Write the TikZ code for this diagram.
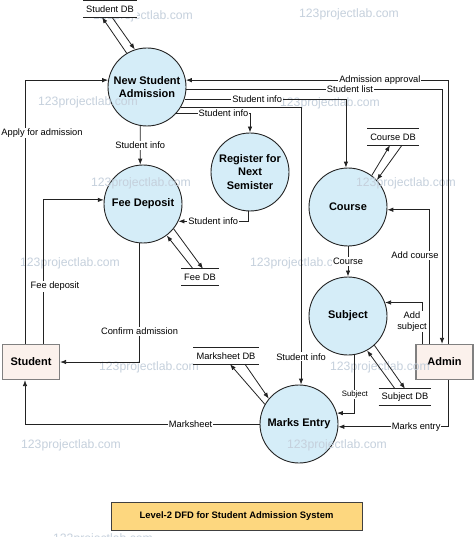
\documentclass[tikz,border=0pt]{standalone}
\usepackage{fontspec}
\setmainfont{Liberation Sans}
\usetikzlibrary{arrows.meta}

\definecolor{procfill}{HTML}{D5EDF8}
\definecolor{entfill}{HTML}{FBF1EC}
\definecolor{titlefill}{HTML}{FDD77F}
\definecolor{wmark}{HTML}{C5D0DC}
\definecolor{linegray}{HTML}{222222}

\begin{document}
\begin{tikzpicture}[x=1pt, y=-1pt, >={Latex[length=6pt,width=4.5pt]},
    process/.style={circle, draw=linegray, line width=0.9pt, fill=procfill, minimum size=78pt, inner sep=0pt, align=center, font=\fontsize{11}{13.5}\selectfont\bfseries},
    entity/.style={rectangle, draw=gray, line width=1.2pt, fill=entfill, minimum width=57pt, minimum height=35pt, font=\fontsize{11}{13}\selectfont\bfseries},
    store/.style={fill=white, inner xsep=3pt, inner ysep=1pt, minimum height=16pt, font=\fontsize{9.3}{11}\selectfont, append after command={(\tikzlastnode.north west) edge[draw=linegray, line width=0.8pt] (\tikzlastnode.north east) (\tikzlastnode.south west) edge[draw=linegray, line width=0.8pt] (\tikzlastnode.south east)}},
    lbl/.style={fill=white, inner sep=1pt, font=\fontsize{9.3}{11}\selectfont},
    flow/.style={->, draw=linegray, line width=0.8pt},
    wm/.style={text=wmark, font=\fontsize{12.2}{14}\selectfont}]
    \useasboundingbox (0,0) rectangle (474,537);

    % processes
    \node[process] (nsa) at (147,87) {New Student\\Admission};
    \node[process] (fee) at (143,204) {Fee Deposit};
    \node[process] (reg) at (250,172) {Register for\\Next\\Semister};
    \node[process] (crs) at (348,207) {Course};
    \node[process] (sub) at (348,316) {Subject};
    \node[process] (mks) at (299,424) {Marks Entry};

    % external entities
    \node[entity] (stu) at (31,362) {Student};
    \node[entity] (adm) at (444.5,362) {Admin};

    % watermarks
    \node[wm] (wm1) at (143,16) {123projectlab.com};
    \node[wm] (wm2) at (349,14) {123projectlab.com};
    \node[wm] (wm3) at (88,102) {123projectlab.com};
    \node[wm] (wm4) at (330,103) {123projectlab.com};
    \node[wm] (wm5) at (141,183) {123projectlab.com};
    \node[wm] (wm6) at (406,183) {123projectlab.com};
    \node[wm] (wm7) at (70,263) {123projectlab.com};
    \node[wm] (wm8) at (300,263) {123projectlab.com};
    \node[wm] (wm9) at (149,367) {123projectlab.com};
    \node[wm] (wm10) at (380,367) {123projectlab.com};
    \node[wm] (wm11) at (71,445) {123projectlab.com};
    \node[wm] (wm12) at (337,445) {123projectlab.com};
    \node[wm] (wm13) at (103,539) {123projectlab.com};

    % data stores
    \node[store] (sdb) at (110,9) {Student DB};
    \node[store] (cdb) at (393,137) {Course DB};
    \node[store] (fdb) at (200,277) {Fee DB};
    \node[store] (mdb) at (226,356) {Marksheet DB};
    \node[store] (sjdb) at (405,397) {Subject DB};

    % flows
    \draw[flow] ([xshift=-6pt]stu.north) |- (nsa.170) node[lbl, pos=0.4, xshift=17pt] {Apply for admission};
    \draw[flow] ([xshift=12pt]stu.north) |- (fee.174) node[lbl, pos=0.2, xshift=12pt] {Fee deposit};
    \draw[flow] (nsa.-100) -- (fee.94) node[lbl, midway] {Student info};
    \draw[flow] (fee.-95) |- (stu.east) node[lbl, pos=0.37] {Confirm admission};
    \draw[flow] (reg.-93) |- (fee.-26) node[lbl, pos=0.75] {Student info};
    \draw[flow] (nsa.-42) -| (reg.north) node[lbl, pos=0.32] {Student info};
    \draw[flow] (nsa.-31) -| (mks.87) node[lbl, pos=0.95] {Student info};
    \draw[flow] (nsa.-18) -| (crs.93) node[lbl, pos=0.225] {Student info};
    \draw[flow] (nsa.-3) -| ([xshift=-2.5pt]adm.north) node[lbl, pos=0.32] {Student list};
    \draw[flow] ([xshift=3.5pt]adm.north) |- (nsa.10) node[lbl, pos=0.63] {Admission approval};
    \draw[flow] ([xshift=-15.5pt]adm.north) |- (crs.-4) node[lbl, pos=0.33, xshift=-14pt] {Add course};
    \draw[flow] ([xshift=-22.5pt]adm.north) |- (sub.20) node[lbl, pos=0.27, xshift=-10pt, align=center] {Add\\subject};
    \draw[flow] (crs.south) -- (sub.north) node[lbl, midway] {Course};
    \draw[flow] (sub.-80) |- (mks.16) node[lbl, pos=0.34, font=\fontsize{7.8}{9}\selectfont] {Subject};
    \draw[flow] ([xshift=3.5pt]adm.south) |- (mks.-4) node[lbl, pos=0.645] {Marks entry};
    \draw[flow] (mks.west) -| ([xshift=-6pt]stu.south) node[lbl, pos=0.147] {Marksheet};

    % store access
    \draw[flow, <-] ([xshift=-8pt]sdb.south) -- (nsa.121);
    \draw[flow] ([xshift=2pt]sdb.south) -- (nsa.108);
    \draw[flow] ([xshift=-7pt]fdb.north) -- (fee.-53);
    \draw[flow, <-] ([xshift=3pt]fdb.north) -- (fee.-39);
    \draw[flow, <-] ([xshift=-3pt]cdb.south) -- (crs.53);
    \draw[flow] ([xshift=9pt]cdb.south) -- (crs.43);
    \draw[flow] ([xshift=-10pt]sjdb.north) -- (sub.-61);
    \draw[flow, <-] (sjdb.north) -- (sub.-48);
    \draw[flow, <-] ([xshift=4pt]mdb.south) -- (mks.150);
    \draw[flow] ([xshift=19pt]mdb.south) -- (mks.140);

    % title
    \node[draw=black!75, line width=1pt, fill=titlefill, minimum width=251pt, minimum height=28pt, font=\fontsize{9.4}{11}\selectfont\bfseries] (ttl) at (236.5,516) {Level-2 DFD for Student Admission System};
\end{tikzpicture}
\end{document}
